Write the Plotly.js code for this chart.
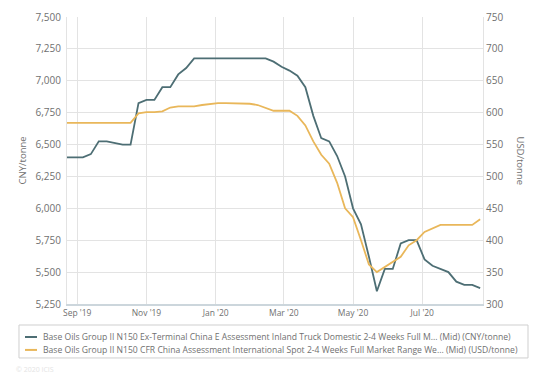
<!DOCTYPE html>
<html>
<head>
<meta charset="utf-8">
<script src="https://cdn.plot.ly/plotly-3.0.1.min.js"></script>
<style>
html,body{margin:0;padding:0;background:#fff;}
#chart{width:547px;height:374px;}
</style>
</head>
<body>
<div id="chart"></div>
<script>
var dates = [
  "2019-08-23","2019-08-30","2019-09-06","2019-09-13","2019-09-20","2019-09-27",
  "2019-10-04","2019-10-11","2019-10-18","2019-10-25","2019-11-01","2019-11-08",
  "2019-11-15","2019-11-22","2019-11-29","2019-12-06","2019-12-13","2019-12-20",
  "2019-12-27","2020-01-03","2020-01-10","2020-01-17","2020-01-24","2020-01-31",
  "2020-02-07","2020-02-14","2020-02-21","2020-02-28","2020-03-06","2020-03-13",
  "2020-03-20","2020-03-27","2020-04-03","2020-04-10","2020-04-17","2020-04-24",
  "2020-05-01","2020-05-08","2020-05-15","2020-05-22","2020-05-29","2020-06-05",
  "2020-06-12","2020-06-19","2020-06-26","2020-07-03","2020-07-10","2020-07-17",
  "2020-07-24","2020-07-31","2020-08-07","2020-08-14","2020-08-21"
];
var domesticCNY = [
  6400,6400,6400,6425,6525,6525,
  6510,6500,6500,6825,6850,6850,
  6950,6950,7050,7100,7175,7175,
  7175,7175,7175,7175,7175,7175,
  7175,7175,7150,7110,7080,7040,
  6950,6725,6550,6525,6410,6250,
  6000,5875,5620,5350,5525,5525,
  5725,5750,5750,5600,5550,5525,
  5500,5425,5400,5400,5375
];
var cfrUSD = [
  584,584,584,584,584,584,
  584,584,584,599,601,601,
  602,608,610,610,610,612,
  614,615,615,615,615,614,
  612,607,603,603,603,595,
  580,555,534,520,490,450,
  436,400,362,350,358,366,
  374,392,400,413,419,424,
  424,424,424,424,433
];
var seriesNames = [
  "Base Oils Group II N150 Ex-Terminal China E Assessment Inland Truck Domestic 2-4 Weeks Full M... (Mid) (CNY/tonne)",
  "Base Oils Group II N150 CFR China Assessment International Spot 2-4 Weeks Full Market Range We... (Mid) (USD/tonne)"
];
var seriesColors = ["#4d6e74", "#e9b75a"];

var FONT = "Open Sans, DejaVu Sans, sans-serif";
var GRID = "#e3e3e3";
var TXT = "#707070";

var traces = [
  {x: dates, y: domesticCNY, name: seriesNames[0], type: "scatter", mode: "lines",
   line: {color: seriesColors[0], width: 1.8}, yaxis: "y"},
  {x: dates, y: cfrUSD, name: seriesNames[1], type: "scatter", mode: "lines",
   line: {color: seriesColors[1], width: 1.8}, yaxis: "y2"}
];

// custom legend (paper coordinates)
var legY = [-0.115, -0.160];
var shapes = [
  {type: "rect", xref: "paper", yref: "paper", x0: -0.1154, x1: 1.1082, y0: -0.0732, y1: -0.188,
   line: {color: "#cfcfcf", width: 1}, fillcolor: "rgba(0,0,0,0)"}
];
var annotations = [
  {text: "CNY/tonne", xref: "paper", yref: "paper", x: -0.106, y: 0.5,
   xanchor: "center", yanchor: "middle", textangle: -90, showarrow: false,
   font: {size: 9.5, color: TXT}},
  {text: "USD/tonne", xref: "paper", yref: "paper", x: 1.089, y: 0.5,
   xanchor: "center", yanchor: "middle", textangle: 90, showarrow: false,
   font: {size: 9.5, color: TXT}},
  {text: "© 2020 ICIS", xref: "paper", yref: "paper", x: -0.127, y: -0.228,
   xanchor: "left", yanchor: "middle", showarrow: false,
   font: {size: 7, color: "#e4e4e4"}}
];
for (var i = 0; i < seriesNames.length; i++) {
  shapes.push({type: "line", xref: "paper", yref: "paper", x0: -0.101, x1: -0.0721,
    y0: legY[i], y1: legY[i], line: {color: seriesColors[i], width: 2}});
  annotations.push({text: seriesNames[i], xref: "paper", yref: "paper", x: -0.0625, y: legY[i],
    xanchor: "left", yanchor: "middle", showarrow: false,
    font: {size: 8.6, color: TXT, family: FONT}});
}

var layout = {
  width: 547, height: 374,
  margin: {l: 67, r: 64, t: 17, b: 70},
  paper_bgcolor: "#fff", plot_bgcolor: "#fff",
  font: {family: FONT, size: 10, color: TXT},
  showlegend: false,
  xaxis: {
    type: "date",
    range: ["2019-08-23", "2020-08-23 12:00"],
    tick0: "2019-09-01", dtick: "M2",
    tickformat: "%b '%y",
    showgrid: true, gridcolor: GRID, gridwidth: 1,
    showline: true, linecolor: "#ccd6dc", linewidth: 1.5,
    ticks: "", zeroline: false,
    tickfont: {size: 8.5, color: TXT}
  },
  yaxis: {
    range: [5250, 7500], dtick: 250, tickformat: ",d",
    showgrid: true, gridcolor: GRID, gridwidth: 1,
    showline: true, linecolor: GRID, linewidth: 1,
    zeroline: false, ticks: "",
    tickfont: {size: 10, color: TXT},
    ticklabelstandoff: 3
  },
  yaxis2: {
    range: [300, 750], dtick: 50, overlaying: "y", side: "right",
    showgrid: false, showline: true, linecolor: GRID, linewidth: 1,
    zeroline: false, ticks: "",
    tickfont: {size: 10, color: TXT}
  },
  shapes: shapes,
  annotations: annotations
};

Plotly.newPlot("chart", traces, layout, {staticPlot: true, displayModeBar: false});
</script>
</body>
</html>
